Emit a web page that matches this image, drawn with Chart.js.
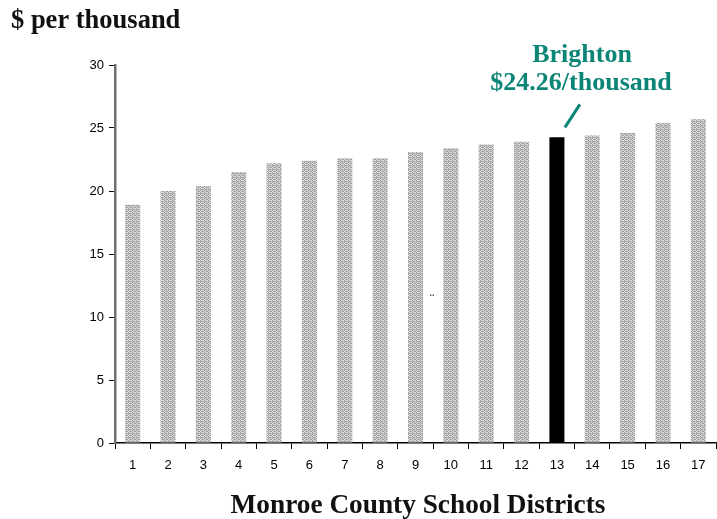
<!DOCTYPE html>
<html>
<head>
<meta charset="utf-8">
<script src="https://cdn.jsdelivr.net/npm/chart.js@4/dist/chart.umd.min.js"></script>
<style>
  html, body { margin: 0; padding: 0; background: #fff; }
  #wrap { width: 717px; height: 519px; position: relative; }
</style>
</head>
<body>
<div id="wrap"><canvas id="chart" width="717" height="519"></canvas></div>
<script>
// districts 1..17, tax rate in $ per thousand of assessed value
const districts = ['1','2','3','4','5','6','7','8','9','10','11','12','13','14','15','16','17'];
const rates = [18.9, 20.0, 20.4, 21.5, 22.2, 22.4, 22.6, 22.6, 23.1, 23.4, 23.7, 23.9, 24.26, 24.4, 24.6, 25.4, 25.7];
const highlightIndex = 12;
const yTicks = [0, 5, 10, 15, 20, 25, 30];

const teal = '#0b8576';
const serif = '"Liberation Serif", "DejaVu Serif", serif';

// dithered grey fill for the ordinary bars
function ditherPattern() {
  const c = document.createElement('canvas');
  c.width = 4; c.height = 4;
  const g = c.getContext('2d');
  g.fillStyle = '#dadada'; g.fillRect(0, 0, 4, 4);
  g.fillStyle = '#9c9c9c';
  [[0,0],[0,2],[2,1],[2,3],[1,1],[3,3]].forEach(p => g.fillRect(p[0], p[1], 1, 1));
  g.fillStyle = '#bdbdbd';
  [[1,3],[3,1],[0,1],[2,2]].forEach(p => g.fillRect(p[0], p[1], 1, 1));
  return g.createPattern(c, 'repeat');
}
const grey = ditherPattern();
const barColors = rates.map((v, i) => i === highlightIndex ? '#000' : grey);

// titles and the Brighton callout
const decorations = {
  id: 'decorations',
  afterDraw(chart) {
    const ctx = chart.ctx;
    const x = chart.scales.x, y = chart.scales.y;
    ctx.save();
    ctx.fillStyle = '#111';
    ctx.font = 'bold 26.5px ' + serif;
    ctx.textAlign = 'left';
    ctx.textBaseline = 'alphabetic';
    ctx.fillText('$ per thousand', 11, 28);

    ctx.font = 'bold 27.3px ' + serif;
    ctx.textAlign = 'center';
    ctx.fillText('Monroe County School Districts', 418, 513);

    const bx = x.getPixelForValue(highlightIndex);
    const by = y.getPixelForValue(rates[highlightIndex]);
    ctx.fillStyle = teal;
    ctx.font = 'bold 26px ' + serif;
    ctx.fillText('Brighton', 582, 62);
    ctx.fillText('$' + rates[highlightIndex].toFixed(2) + '/thousand', 581, 90);

    ctx.strokeStyle = teal;
    ctx.lineWidth = 3;
    ctx.beginPath();
    ctx.moveTo(bx + 8, by - 10);
    ctx.lineTo(bx + 23, by - 33);
    ctx.stroke();

    ctx.fillStyle = '#444';
    ctx.font = 'bold 9px "Liberation Sans", Arial, sans-serif';
    ctx.fillText('..', 432, 296);
    ctx.restore();
  }
};

new Chart(document.getElementById('chart'), {
  type: 'bar',
  data: {
    labels: districts,
    datasets: [{
      data: rates,
      backgroundColor: barColors,
      borderWidth: 0,
      barPercentage: 0.425,
      categoryPercentage: 1
    }]
  },
  options: {
    responsive: false,
    animation: false,
    layout: { padding: { left: 65, right: 1, top: 65, bottom: 46 } },
    plugins: { legend: { display: false }, tooltip: { enabled: false } },
    scales: {
      x: {
        grid: { offset: true, drawOnChartArea: false, drawTicks: true, tickLength: 6, color: '#000' },
        border: { color: '#000', width: 1.5 },
        ticks: { color: '#000', padding: 9, font: { family: '"Liberation Sans", Arial, sans-serif', size: 13 } },
        afterFit(s) { s.height = 30; }
      },
      y: {
        min: 0,
        max: 30,
        afterBuildTicks(s) { s.ticks = yTicks.map(v => ({ value: v })); },
        grid: { drawOnChartArea: false, drawTicks: true, tickLength: 6, color: '#000' },
        border: { color: '#707070', width: 2.5 },
        ticks: { color: '#000', padding: 5, font: { family: '"Liberation Sans", Arial, sans-serif', size: 13 } },
        afterFit(s) { s.width = 50; }
      }
    }
  },
  plugins: [decorations]
});
</script>
</body>
</html>
